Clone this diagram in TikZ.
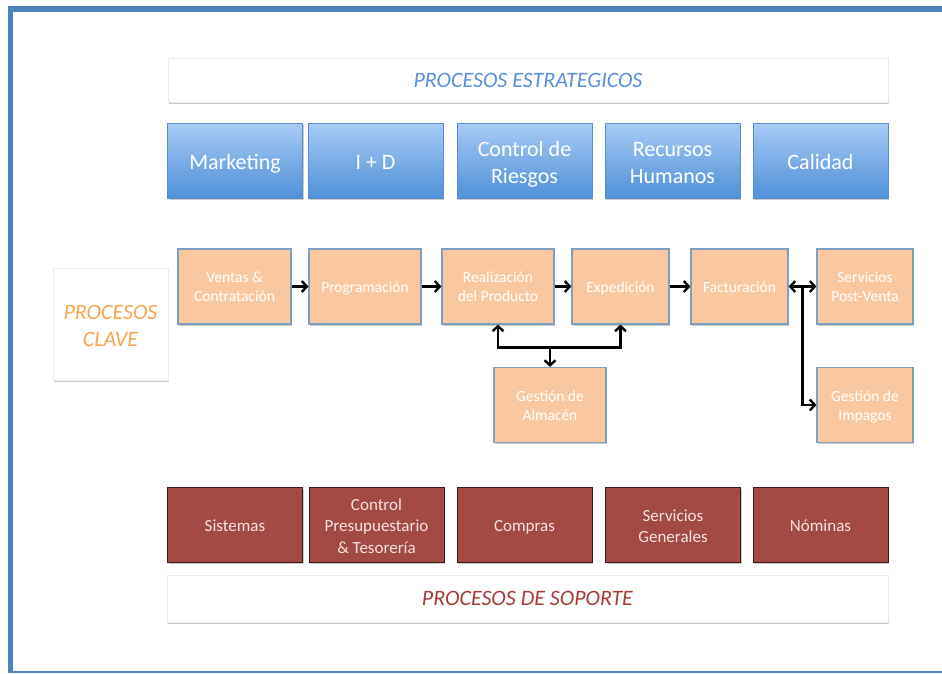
\documentclass[tikz,border=0pt]{standalone}
\usepackage{fontspec}
\setmainfont{Carlito}
\usetikzlibrary{arrows.meta,shadows,calc}

\definecolor{frameblue}{HTML}{4F81BD}
\definecolor{stratTop}{HTML}{A8CBF6}
\definecolor{stratBot}{HTML}{5090D8}
\definecolor{stratEdge}{HTML}{5A8CC8}
\definecolor{keyFill}{HTML}{FAC8A0}
\definecolor{keyEdge}{HTML}{809EC2}
\definecolor{suppFill}{HTML}{A24A43}
\definecolor{suppEdge}{HTML}{3A1C1A}
\definecolor{suppText}{HTML}{F4E2E0}
\definecolor{titleBlue}{HTML}{5B8FD8}
\definecolor{titleOrange}{HTML}{F6A552}
\definecolor{titleRed}{HTML}{A53D3A}

% centred lines of text, set a little below the box centre
\newcommand\boxtext[2]{\raisebox{-#1}[\height][\depth]{\begin{tabular}{@{}c@{}}#2\end{tabular}}}

\tikzset{
  softshadow/.style={drop shadow={shadow xshift=1.2pt, shadow yshift=-1.8pt,
      opacity=0.35, fill=black!60}},
  boxbase/.style={rectangle, align=center, inner sep=2pt, softshadow},
  strat/.style={boxbase, minimum width=135pt, minimum height=75pt,
      top color=stratTop, bottom color=stratBot, draw=stratEdge, line width=0.8pt,
      text=white, font=\fontsize{22}{27}\selectfont},
  keybox/.style={boxbase, minimum height=75pt,
      fill=keyFill, draw=keyEdge, line width=1.2pt,
      text=white, font=\fontsize{15.5}{19}\selectfont},
  supp/.style={boxbase, minimum width=135pt, minimum height=75pt,
      fill=suppFill, draw=suppEdge, line width=1pt,
      text=suppText, font=\fontsize{17}{21.5}\selectfont},
  banner/.style={rectangle, align=center, fill=white, draw=black!8, line width=0.5pt,
      softshadow, font=\itshape\fontsize{22}{27}\selectfont},
  flow/.style={line width=2.4pt, -{Straight Barb[length=5pt,width=11pt]}},
  flowboth/.style={line width=2.4pt,
      {Straight Barb[length=5pt,width=11pt]}-{Straight Barb[length=5pt,width=11pt]}},
}

\begin{document}
\begin{tikzpicture}[x=1pt, y=-1pt]
  \useasboundingbox (0,0) rectangle (942,673);
  \fill[white] (0,0) rectangle (942,673);

  % outer frame
  \fill[frameblue] (8,6) rectangle (13,673);
  \fill[frameblue] (8,6) rectangle (942,12);
  \fill[frameblue] (8,671) rectangle (942,673);

  % strategic processes
  \node[banner, minimum width=720pt, minimum height=44pt, text=titleBlue]
    (estr) at (528,80) {PROCESOS ESTRATEGICOS};
  \node[strat] (mkt)  at (235,160.5)   {\boxtext{4pt}{Marketing}};
  \node[strat] (id)   at (375.5,160.5) {\boxtext{4pt}{I + D}};
  \node[strat] (rie)  at (524.5,160.5) {\boxtext{4pt}{Control de\\Riesgos}};
  \node[strat] (rrhh) at (672.5,160.5) {\boxtext{4pt}{Recursos\\Humanos}};
  \node[strat] (cal)  at (820.5,160.5) {\boxtext{4pt}{Calidad}};

  % key processes
  \node[banner, minimum width=115pt, minimum height=112pt, text=titleOrange]
    (clave) at (110.5,324) {\boxtext{4pt}{PROCESOS\\CLAVE}};
  \node[keybox, minimum width=113pt] (ventas) at (234.5,286.5) {\boxtext{2pt}{Ventas \&\\Contratación}};
  \node[keybox, minimum width=112pt] (prog)   at (365,286.5)   {\boxtext{2pt}{Programación}};
  \node[keybox, minimum width=112pt] (real)   at (498,286.5)   {\boxtext{2pt}{Realización\\del Producto}};
  \node[keybox, minimum width=97pt]  (exped)  at (620.5,286.5) {\boxtext{2pt}{Expedición}};
  \node[keybox, minimum width=97pt]  (fact)   at (739.5,286.5) {\boxtext{2pt}{Facturación}};
  \node[keybox, minimum width=96pt]  (serv)   at (865,286.5)   {\boxtext{2pt}{Servicios\\Post-Venta}};
  \node[keybox, minimum width=112pt] (alm)    at (550,405)     {\boxtext{2pt}{Gestión de\\Almacén}};
  \node[keybox, minimum width=96pt]  (imp)    at (865,405)     {\boxtext{2pt}{Gestión de\\Impagos}};

  % flow between key processes
  \draw[flow] (ventas) -- (prog);
  \draw[flow] (prog) -- (real);
  \draw[flow] (real) -- (exped);
  \draw[flow] (exped) -- (fact);
  \draw[flowboth] (fact) -- (serv);

  \coordinate (jl) at ($(real.south)+(0,23)$);
  \coordinate (jr) at (exped.south |- jl);
  \draw[flowboth, line join=miter] (real.south) -- (jl) -- (jr) -- (exped.south);
  \draw[flow] (alm.north |- jl) -- (alm.north);

  \coordinate (fj) at ($(fact.east)!0.5!(serv.west)$);
  \draw[flow, line join=miter] (fj) |- (imp.west);

  % support processes
  \node[supp] (sis)  at (235,524.5)   {\boxtext{3pt}{Sistemas}};
  \node[supp] (pres) at (376.5,524.5) {\boxtext{3pt}{Control\\Presupuestario\\\& Tesorería}};
  \node[supp] (comp) at (524.5,524.5) {\boxtext{3pt}{Compras}};
  \node[supp] (sgen) at (673,524.5)   {\boxtext{3pt}{Servicios\\Generales}};
  \node[supp] (nom)  at (820.5,524.5) {\boxtext{3pt}{Nóminas}};
  \node[banner, minimum width=721pt, minimum height=47pt, text=titleRed]
    (sop) at (527.5,598.5) {PROCESOS DE SOPORTE};
\end{tikzpicture}
\end{document}
